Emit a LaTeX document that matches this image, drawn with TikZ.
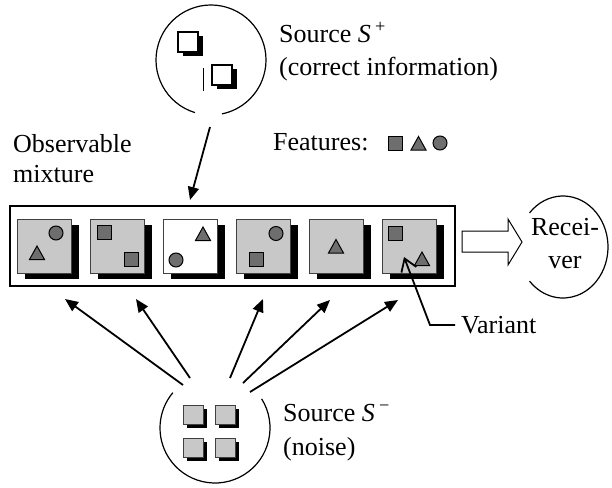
\documentclass[tikz,border=0pt]{standalone}
\usepackage{fontspec}
\setmainfont{Liberation Serif}
\usetikzlibrary{arrows.meta}
\definecolor{cardgray}{HTML}{C8C8C8}
\definecolor{featgray}{HTML}{6E6E6E}
\definecolor{edgegray}{HTML}{404040}
\tikzset{
  lbl/.style={anchor=base west,inner sep=0pt,font=\fontsize{26}{30}\selectfont},
  feat/.style={draw=black,fill=featgray,line width=1pt},
  cardbox/.style={draw=edgegray,line width=1pt},
  shadowbox/.style={fill=black,draw=none},
  conn/.style={line width=1.8pt,-{Triangle[length=13pt,width=11pt]}},
  ring/.style={line width=1.2pt}
}
\newcommand{\fsq}[2]{\draw[feat] ({#1-7},{#2-7}) rectangle ({#1+7},{#2+7});}
\newcommand{\ftri}[2]{\draw[feat] ({#1-7.5},{#2+6.5}) -- ({#1+7.5},{#2+6.5}) -- ({#1},{#2-7}) -- cycle;}
\newcommand{\fcirc}[2]{\draw[feat] (#1,#2) circle[radius=7];}
\newcommand{\mycard}[3]{%
  \fill[shadowbox] ({#1+8},{#2+6}) rectangle ({#1+62},{#2+60});
  \draw[cardbox,fill=#3] (#1,#2) rectangle ({#1+54},{#2+54});}
\newcommand{\plainsq}[2]{%
  \fill[shadowbox] ({#1+5},{#2+4}) rectangle ({#1+25},{#2+24});
  \draw[line width=1.6pt,fill=white] (#1,#2) rectangle ({#1+20},{#2+20});}
\newcommand{\graysq}[2]{%
  \fill[shadowbox] ({#1+4},{#2+4}) rectangle ({#1+24},{#2+23});
  \draw[line width=1pt,draw=edgegray,fill=cardgray] (#1,#2) rectangle ({#1+20},{#2+19});}
\begin{document}
\begin{tikzpicture}[x=1pt,y=-1pt]
\useasboundingbox (0,0) rectangle (612,487);
\fill[white] (0,0) rectangle (612,487);

% Source S+ circle (gap at bottom)
\coordinate (splus) at (211,60);
\draw[ring] (splus) ++(107:55) arc[start angle=107,end angle=438.5,radius=55];
\plainsq{178}{32}
\plainsq{212}{65}
\draw[line width=0.8pt] (203,68) -- (203,91);
\node[lbl] (splustxt) at (279,42) {Source \textit{S}\,\textsuperscript{+}};
\node[lbl] (splustxt2) at (279,75) {(correct information)};

% labels
\node[lbl] (obs) at (13,152) {Observable};
\node[lbl] (mix) at (13,182) {mixture};
\node[lbl] (feat) at (273,150) {Features:};
\fsq{395}{143}
\ftri{418.5}{143.5}
\fcirc{440}{143}

% mixture frame
\draw[line width=1.5pt] (10,206) rectangle (455,286);
\node[inner sep=0pt,minimum width=445pt,minimum height=80pt] (mixture) at (232.5,246) {};

% cards
\mycard{17}{219}{cardgray}
\fcirc{56}{233}\ftri{37}{253}
\mycard{90}{219}{cardgray}
\fsq{104}{232.5}\fsq{131}{259}
\mycard{163}{219}{white}
\ftri{203}{234}\fcirc{176}{260}
\mycard{236}{219}{cardgray}
\fcirc{276}{233.5}\fsq{256}{259}
\mycard{309}{219}{cardgray}
\ftri{336}{246.5}
\mycard{382}{219}{cardgray}
\fsq{395.5}{233}\ftri{422}{259}

% arrow S+ -> mixture
\coordinate (a0s) at (210,127);
\coordinate (a0e) at (190,200);
\draw[conn] (a0s) -- (a0e);

% block arrow to receiver
\draw[line width=1pt,fill=white] (462,231) -- (508,231) -- (508,219) -- (522,242) -- (508,265) -- (508,252) -- (462,252) -- cycle;

% receiver
\coordinate (recv) at (563,247);
\draw[ring] (recv) ++(222:45 and 51) arc[start angle=222,end angle=498,x radius=45,y radius=51];
\node[lbl,anchor=base] (rec1) at (565,235) {Recei-};
\node[lbl,anchor=base] (rec2) at (565,268) {ver};

% Variant callout
\coordinate (vend) at (455,325);
\coordinate (vknee) at (430,325);
\coordinate (vtip) at (404,257);
\draw[line width=1.8pt,-{Straight Barb[length=12pt,width=16pt]}] (vend) -- (vknee) -- (vtip);
\node[lbl] (variant) at (461,333) {Variant};

% Source S- circle (gap at top)
\coordinate (sminus) at (215,428);
\draw[ring] (sminus) ++(-32:55) arc[start angle=-32,end angle=220,radius=55];
\graysq{183}{405}
\graysq{215}{405}
\graysq{183}{438}
\graysq{215}{438}
\node[lbl] (sminustxt) at (283,421) {Source \textit{S}\,\textsuperscript{−}};
\node[lbl] (sminustxt2) at (283,455) {(noise)};

% noise arrows
\coordinate (n1s) at (183,385); \coordinate (n1e) at (65,299);
\coordinate (n2s) at (190,378); \coordinate (n2e) at (136,299);
\coordinate (n3s) at (230,378); \coordinate (n3e) at (263,299);
\coordinate (n4s) at (243,383); \coordinate (n4e) at (330,300);
\coordinate (n5s) at (250,392); \coordinate (n5e) at (398,300);
\draw[conn] (n1s) -- (n1e);
\draw[conn] (n2s) -- (n2e);
\draw[conn] (n3s) -- (n3e);
\draw[conn] (n4s) -- (n4e);
\draw[conn] (n5s) -- (n5e);
\end{tikzpicture}
\end{document}
